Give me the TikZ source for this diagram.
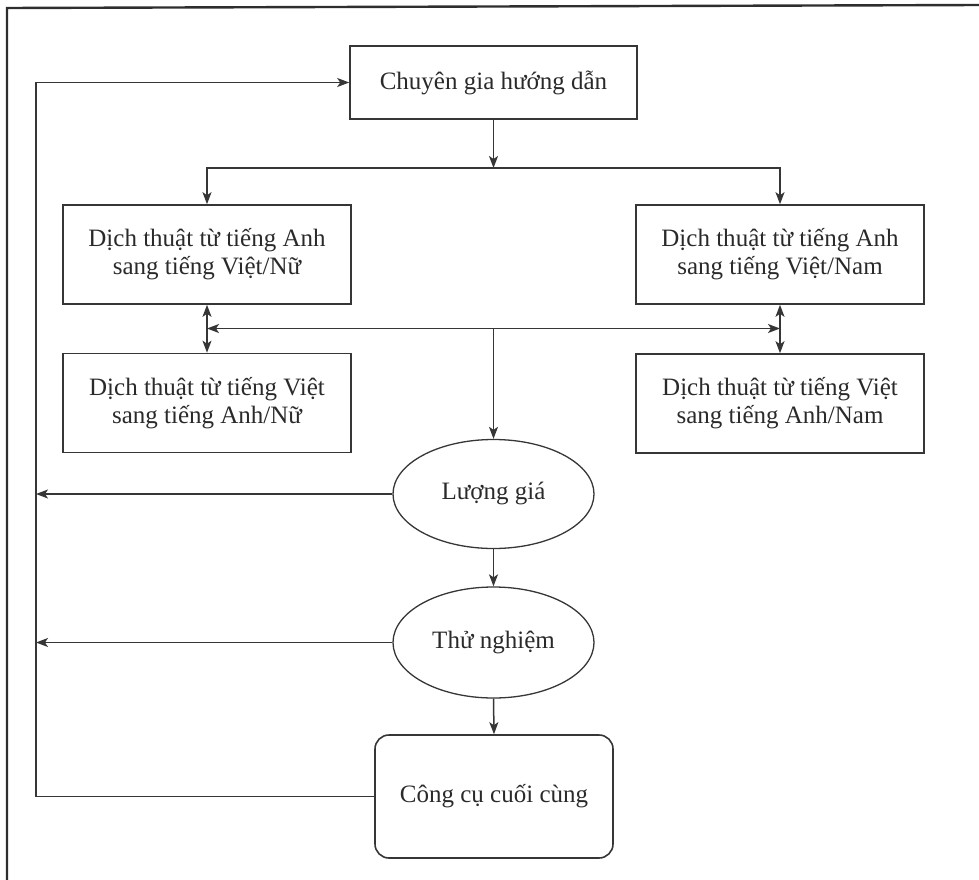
\documentclass[tikz,border=0pt]{standalone}
\usepackage{fontspec}
\setmainfont{Liberation Serif}
\usetikzlibrary{arrows.meta,shapes.geometric}
\definecolor{ink}{HTML}{2A2A2A}
\definecolor{linec}{HTML}{363636}
\begin{document}
\begin{tikzpicture}[x=1pt,y=-1pt,
  every node/.style={text=ink,font=\fontsize{25}{28}\selectfont},
  box/.style={draw=linec,line width=1.6pt,rectangle,inner sep=0pt,align=center,minimum width=288pt,minimum height=99pt},
  oval/.style={draw=linec,line width=1.3pt,ellipse,inner sep=0pt,minimum width=201pt,minimum height=109pt},
  tip/.tip={Stealth[length=12pt,width=9pt,inset=3pt]},
  flow/.style={draw=linec,line width=1.5pt,-tip},
  flowb/.style={draw=linec,line width=1.5pt,tip-tip},
  frame/.style={draw=linec!85!black,line width=2.4pt}]
\useasboundingbox (0,0) rectangle (979,880);
\draw[frame] (7,882) -- (7,8) -- (981,5);

\node[box,minimum width=287pt,minimum height=73pt] (cg) at (493.5,82.5) {Chuyên gia hướng dẫn};
\node[box] (tl) at (207,254.5) {Dịch thuật từ tiếng Anh\\sang tiếng Việt/Nữ};
\node[box] (tr) at (780,254.5) {Dịch thuật từ tiếng Anh\\sang tiếng Việt/Nam};
\node[box] (bl) at (207,403) {Dịch thuật từ tiếng Việt\\sang tiếng Anh/Nữ};
\node[box] (br) at (780,403.5) {Dịch thuật từ tiếng Việt\\sang tiếng Anh/Nam};
\node[oval] (lg) at (493.5,494) {Lượng giá};
\node[oval,minimum height=111pt] (tn) at (493.5,642.5) {Thử nghiệm};
\node[box,rounded corners=14pt,minimum width=238pt,minimum height=123pt] (cc) at (494,796.5) {Công cụ cuối cùng};

\coordinate (j1) at (493.5,168);
\coordinate (m1) at (493.5,328.5);
\coordinate (fb) at (36,0);

\draw[flow] (cg.south) -- (j1);
\draw[flow] (j1) -| (tl.north);
\draw[flow] (j1) -| (tr.north);
\draw[flowb] (tl.south) -- (bl.north);
\draw[flowb] (tr.south) -- (br.north);
\draw[flow] (m1) -- (m1 -| tl.south);
\draw[flow] (m1) -- (m1 -| tr.south);
\draw[flow] (m1) -- (lg.north);
\draw[flow] (lg.south) -- (tn.north);
\draw[flow] (tn.south) -- (cc.north);
\draw[flow] (lg.west) -- (lg.west -| fb);
\draw[flow] (tn.west) -- (tn.west -| fb);
\draw[flow] (cc.west) -- (cc.west -| fb) |- (cg.west);
\end{tikzpicture}
\end{document}
